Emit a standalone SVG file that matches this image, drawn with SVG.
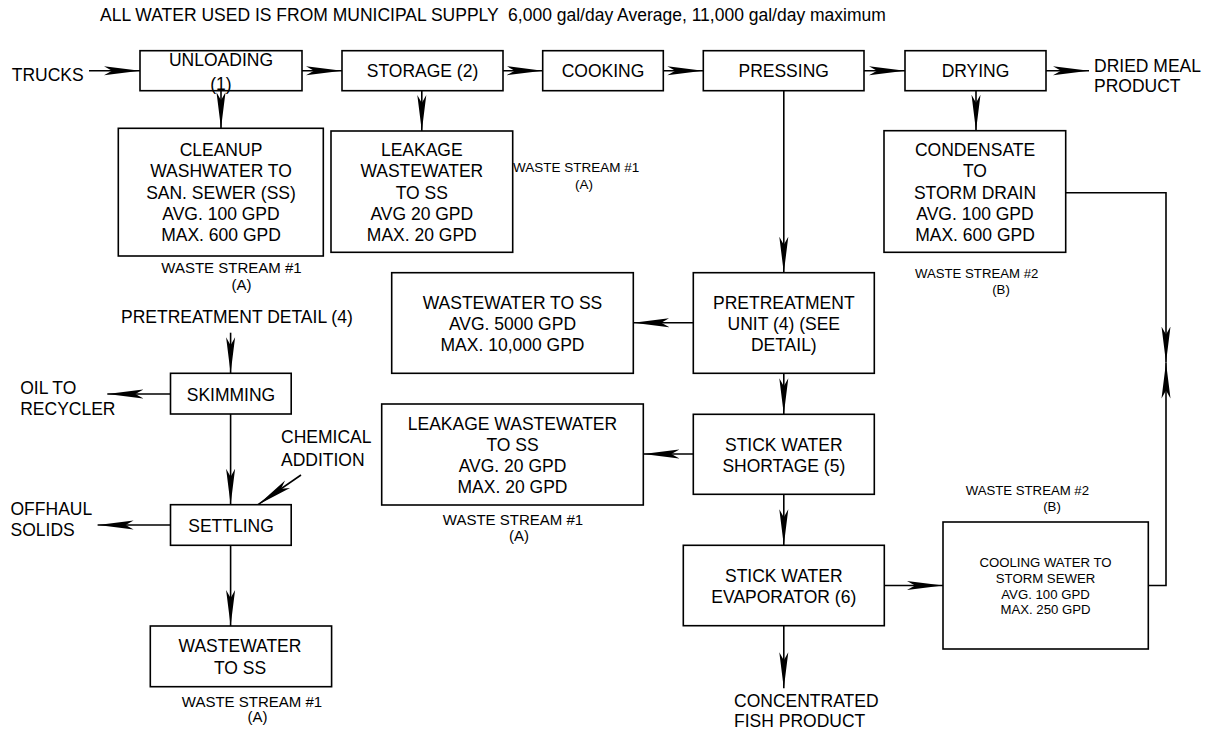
<svg xmlns="http://www.w3.org/2000/svg" width="1213" height="731" viewBox="0 0 1213 731">
<style>
.box{fill:#fff;stroke:#000;stroke-width:1.6}
.t{font-family:"Liberation Sans",Arial,sans-serif;font-size:17.5px;fill:#000}
.m{text-anchor:middle}
.s15{font-size:15px}
.s135{font-size:13.5px}
.s13{font-size:13.2px}
.c{fill:none;stroke:#000;stroke-width:1.6;marker-end:url(#ah)}
.pre{white-space:pre}
</style>
<defs>
<marker id="ah" viewBox="0 0 36 10" refX="36" refY="5" markerWidth="36" markerHeight="10" orient="auto" markerUnits="userSpaceOnUse">
<path d="M36,5 L0,0.5 L8,5 L0,9.5 Z" fill="#000"/>
</marker>
</defs>
<rect width="1213" height="731" fill="#fff"/>

<text id="title" class="t pre" xml:space="preserve" x="100" y="21">ALL WATER USED IS FROM MUNICIPAL SUPPLY  6,000 gal/day Average, 11,000 gal/day maximum</text>

<g id="connectors">
<path class="c" d="M89,70.7 H140"/>
<path class="c" d="M302,70.7 H342"/>
<path class="c" d="M503,70.7 H542.7"/>
<path class="c" d="M663.3,70.7 H703.3"/>
<path class="c" d="M864,70.7 H905"/>
<path class="c" d="M1046,70.7 H1089"/>
<path class="c" d="M221,90.7 V128.3"/>
<path class="c" d="M421.8,90.7 V131"/>
<path class="c" d="M976,90.7 V130.7"/>
<path class="c" d="M783.8,90.7 V272.7"/>
<path class="c" d="M693.3,322.7 H633.3"/>
<path class="c" d="M783.8,373.3 V414.3"/>
<path class="c" d="M693.3,454 H643.3"/>
<path class="c" d="M783.8,494.3 V545.3"/>
<path class="c" d="M884.3,585.5 H943"/>
<path class="c" d="M783.8,625.7 V688.3"/>
<path class="c" d="M1065.7,192.7 H1166 V362.5"/>
<path class="c" d="M1148.3,585.5 H1166 V362.5"/>
<path class="c" d="M230.6,332.7 V373.3"/>
<path class="c" d="M170.5,394 H107.3"/>
<path class="c" d="M230.6,414 V504.7"/>
<path class="c" d="M301,475 L258,504.7"/>
<path class="c" d="M170.5,525 H97.6"/>
<path class="c" d="M230.6,545.3 V626"/>
</g>

<g id="trucks"><text class="t" x="11.7" y="80.7">TRUCKS</text></g>

<g id="unloading">
<rect class="box" x="140" y="50.7" width="162" height="40"/>
<text class="t m" x="221" y="65.7">UNLOADING<tspan x="221" y="90">(1)</tspan></text>
</g>
<g id="storage">
<rect class="box" x="342" y="50.7" width="161" height="40"/>
<text class="t m" x="422.5" y="77.3">STORAGE (2)</text>
</g>
<g id="cooking">
<rect class="box" x="542.7" y="50.7" width="120.6" height="40"/>
<text class="t m" x="603" y="77.3">COOKING</text>
</g>
<g id="pressing">
<rect class="box" x="703.3" y="50.7" width="160.7" height="40"/>
<text class="t m" x="783.7" y="77.3">PRESSING</text>
</g>
<g id="drying">
<rect class="box" x="905" y="50.7" width="141" height="40"/>
<text class="t m" x="975.5" y="77.3">DRYING</text>
</g>
<g id="dried-meal">
<text class="t" x="1094" y="71.5">DRIED MEAL<tspan x="1094" y="92">PRODUCT</tspan></text>
</g>

<g id="cleanup">
<rect class="box" x="118.3" y="128.3" width="205" height="127.7"/>
<text class="t m" x="221" y="156">CLEANUP<tspan x="221" y="177.3">WASHWATER TO</tspan><tspan x="221" y="198.7">SAN. SEWER (SS)</tspan><tspan x="221" y="220">AVG. 100 GPD</tspan><tspan x="221" y="241.3">MAX. 600 GPD</tspan></text>
<text class="t m s15" x="231.5" y="273">WASTE STREAM #1<tspan x="241.5" y="289.5">(A)</tspan></text>
</g>

<g id="leakage-storage">
<rect class="box" x="331" y="131" width="181.7" height="121.3"/>
<text class="t m" x="421.8" y="156">LEAKAGE<tspan x="421.8" y="177.3">WASTEWATER</tspan><tspan x="421.8" y="198.7">TO SS</tspan><tspan x="421.8" y="220">AVG 20 GPD</tspan><tspan x="421.8" y="241.3">MAX. 20 GPD</tspan></text>
<text class="t s135" x="513" y="172.3">WASTE STREAM #1</text>
<text class="t m s135" x="584" y="189">(A)</text>
</g>

<g id="condensate">
<rect class="box" x="884" y="130.7" width="181.7" height="121.6"/>
<text class="t m" x="975" y="156">CONDENSATE<tspan x="975" y="177.3">TO</tspan><tspan x="975" y="198.7">STORM DRAIN</tspan><tspan x="975" y="220">AVG. 100 GPD</tspan><tspan x="975" y="241.3">MAX. 600 GPD</tspan></text>
<text class="t s13" x="915" y="278">WASTE STREAM #2</text>
<text class="t m s13" x="1001" y="294">(B)</text>
</g>

<g id="wastewater-ss">
<rect class="box" x="391.7" y="272.7" width="241.6" height="100.6"/>
<text class="t m" x="512.5" y="309.3">WASTEWATER TO SS<tspan x="512.5" y="330">AVG. 5000 GPD</tspan><tspan x="512.5" y="351">MAX. 10,000 GPD</tspan></text>
</g>

<g id="pretreatment-unit">
<rect class="box" x="693.3" y="272.7" width="181" height="100.6"/>
<text class="t m" x="783.8" y="309.3">PRETREATMENT<tspan x="783.8" y="330">UNIT (4) (SEE</tspan><tspan x="783.8" y="351">DETAIL)</tspan></text>
</g>

<g id="leakage-wastewater">
<rect class="box" x="381.7" y="404" width="261.6" height="101"/>
<text class="t m" x="512.5" y="429.5">LEAKAGE WASTEWATER<tspan x="512.5" y="450.8">TO SS</tspan><tspan x="512.5" y="472">AVG. 20 GPD</tspan><tspan x="512.5" y="493">MAX. 20 GPD</tspan></text>
<text class="t m s15" x="513" y="525">WASTE STREAM #1<tspan x="519" y="540.5">(A)</tspan></text>
</g>

<g id="stick-shortage">
<rect class="box" x="693.3" y="414.3" width="181" height="80"/>
<text class="t m" x="783.8" y="450.5">STICK WATER<tspan x="783.8" y="471.7">SHORTAGE (5)</tspan></text>
</g>

<g id="evaporator">
<rect class="box" x="683.3" y="545.3" width="201" height="80.4"/>
<text class="t m" x="783.8" y="582.3">STICK WATER<tspan x="783.8" y="603.3">EVAPORATOR (6)</tspan></text>
</g>

<g id="cooling">
<rect class="box" x="943" y="522" width="205.3" height="127"/>
<text class="t m s13" x="1045.5" y="567.3">COOLING WATER TO<tspan x="1045.5" y="583">STORM SEWER</tspan><tspan x="1045.5" y="598.5">AVG. 100 GPD</tspan><tspan x="1045.5" y="614">MAX. 250 GPD</tspan></text>
<text class="t s13" x="965.7" y="495">WASTE STREAM #2</text>
<text class="t m s13" x="1052" y="510.5">(B)</text>
</g>

<g id="concentrated">
<text class="t" x="734" y="706.5">CONCENTRATED<tspan x="734" y="727">FISH PRODUCT</tspan></text>
</g>

<g id="pretreatment-detail">
<text class="t" x="121" y="323.3">PRETREATMENT DETAIL (4)</text>
</g>
<g id="skimming">
<rect class="box" x="170.5" y="373.3" width="120.7" height="40.7"/>
<text class="t m" x="231" y="401">SKIMMING</text>
</g>
<g id="oil">
<text class="t" x="20.2" y="394">OIL TO<tspan x="20.2" y="415">RECYCLER</tspan></text>
</g>
<g id="chemical">
<text class="t" x="281" y="443.3">CHEMICAL<tspan x="281" y="466">ADDITION</tspan></text>
</g>
<g id="settling">
<rect class="box" x="170.5" y="504.7" width="120.7" height="40.6"/>
<text class="t m" x="231" y="531.7">SETTLING</text>
</g>
<g id="offhaul">
<text class="t" x="10.5" y="515.3">OFFHAUL<tspan x="10.5" y="536">SOLIDS</tspan></text>
</g>
<g id="wastewater-detail">
<rect class="box" x="150.3" y="626" width="181.3" height="60.7"/>
<text class="t m" x="240" y="652.3">WASTEWATER<tspan x="240" y="674">TO SS</tspan></text>
<text class="t m s15" x="252" y="707.3">WASTE STREAM #1<tspan x="257.6" y="722">(A)</tspan></text>
</g>
</svg>
